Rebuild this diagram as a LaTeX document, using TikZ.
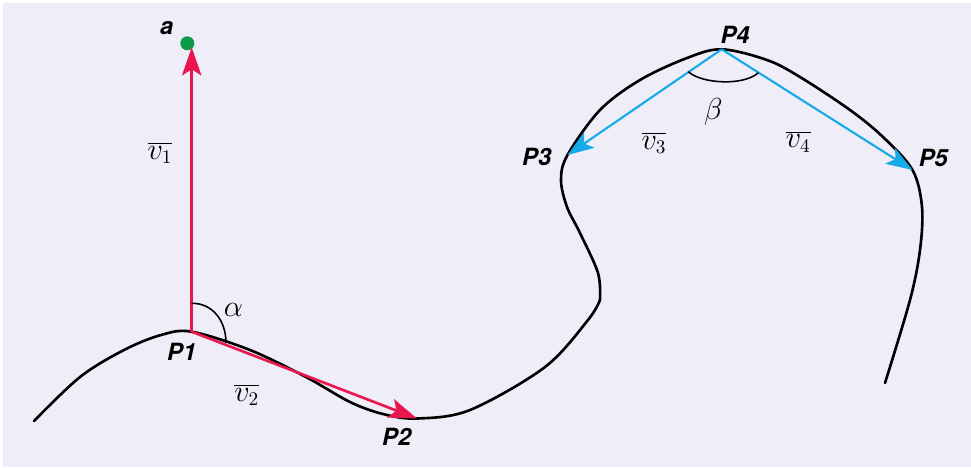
\documentclass[tikz,border=0pt]{standalone}
\usepackage{fontspec}
\setsansfont{TeX Gyre Heros}
\usepackage{tikz}
\usetikzlibrary{arrows.meta,calc}
\definecolor{bgcol}{RGB}{238,237,248}
\definecolor{vred}{RGB}{233,22,80}
\definecolor{vblue}{RGB}{22,170,232}
\definecolor{dotgreen}{RGB}{14,154,72}

\begin{document}
\begin{tikzpicture}[x=0.02cm,y=-0.02cm]
  \tikzset{ pl/.style={font=\sffamily\bfseries\itshape\fontsize{13.5}{15}\selectfont,inner sep=0pt},
    vl/.style={font=\fontsize{16}{18}\selectfont,inner sep=0pt},
    ang/.style={font=\fontsize{17}{20}\selectfont,inner sep=0pt},
    curve/.style={black,line width=1.5pt,line cap=round,line join=round},
    vr/.style={vred,line width=1.5pt,-{Stealth[length=16pt,width=11pt,inset=3.5pt]}},
    vb/.style={vblue,line width=1.2pt,-{Stealth[length=15pt,width=10.5pt,inset=3.5pt]}},
    arcl/.style={black,line width=0.9pt},
  }
  \fill[white] (0,0) rectangle (971,467);
  \fill[bgcol] (3,3) rectangle (971,467);

  \coordinate (P1) at (191.7,331.7);
  \coordinate (P2) at (417,418.5);
  \coordinate (P3) at (567.5,155);
  \coordinate (P4) at (721.7,49.3);
  \coordinate (P5) at (912.5,170);
  \node[circle,fill=dotgreen,inner sep=0pt,minimum size=0.28cm] (a) at (187.3,43.3) {};

  \draw[curve] plot[smooth,tension=0.55] coordinates {(34,421) (80,377) (124,350) (161,335) (P1) (250,350) (306,377) (350,402) (383,414) (P2) (470,410) (545,367) (588,320) (600,300)};
  \draw[curve] plot[smooth,tension=0.55] coordinates {(600,300) (598,273) (580,233) (567,207) (561,180) (P3) (600,110) (640,80) (687,58) (P4) (767,60) (800,77) (850,110) (883,137) (P5) (922,207) (920,250) (910,300) (885,383)};

  \draw[vr] (P1) -- ($(P1 |- a.center)+(0,4)$);
  \draw[vr] (P1) -- (P2);
  \draw[vb] (P4) -- (P3);
  \draw[vb] (P4) -- (P5);

  \draw[arcl] (191.7,303.3) .. controls (212,303) and (226,320) .. (226,343);
  \draw[arcl] (688.3,71.7) .. controls (702,84) and (744,86) .. (758.3,72.7);

  \node[pl] (la) at (166.7,28.3) {a};
  \node[pl] (l1) at (181.7,351.7) {P1};
  \node[pl] (l2) at (396.7,436.7) {P2};
  \node[pl] (l3) at (536.7,156.7) {P3};
  \node[pl] (l4) at (735,35) {P4};
  \node[pl] (l5) at (933.3,158.3) {P5};
  \node[vl] (v1) at (160,153) {$\overline{v_1}$};
  \node[vl] (v2) at (246.7,395) {$\overline{v_2}$};
  \node[vl] (v3) at (654,143.3) {$\overline{v_3}$};
  \node[vl] (v4) at (798.3,141.7) {$\overline{v_4}$};
  \node[ang] (al) at (233.3,310) {$\alpha$};
  \node[ang] (be) at (713.3,111.7) {$\beta$};
\end{tikzpicture}
\end{document}
